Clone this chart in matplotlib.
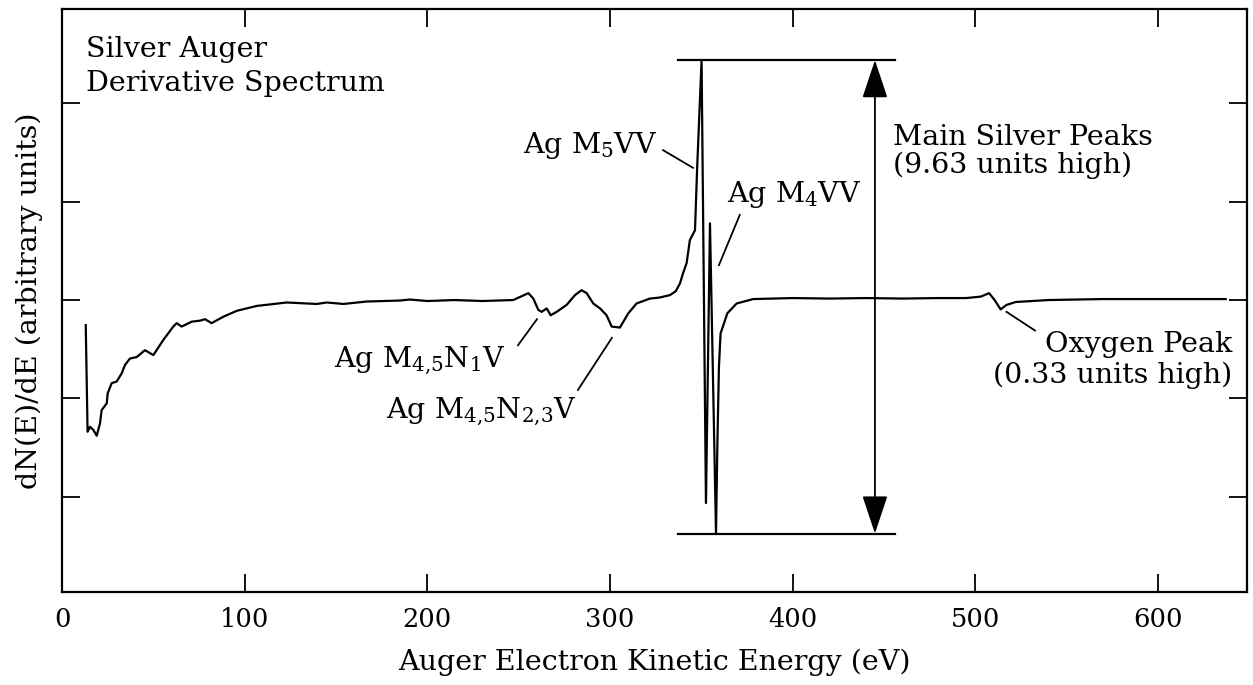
import matplotlib
matplotlib.use("Agg")
import matplotlib.pyplot as plt

# Auger derivative spectrum (eV, arbitrary units)
energia = [13.0, 14.0, 15.3, 17.1, 19.0, 20.8, 21.7, 24.5, 25.0, 27.2, 29.9, 32.7,
           34.5, 37.2, 40.9, 45.4, 50.0, 55.5, 60.9, 62.8, 65.5, 71.0, 75.5, 78.3,
           81.9, 88.3, 95.6, 106.6, 123.0, 139.4, 144.9, 154.0, 166.8, 185.0, 190.5,
           200.0, 215.0, 230.0, 247.0, 255.3, 258.0, 260.7, 262.6, 265.3, 267.5,
           270.8, 276.2, 280.8, 284.4, 287.2, 290.8, 294.5, 298.1, 300.9, 305.4,
           310.0, 314.5, 321.8, 327.0, 332.8, 336.0, 338.3, 340.0, 341.9, 343.7,
           346.5, 347.7, 350.1, 352.5, 354.7, 358.0, 358.7, 359.6, 360.5, 364.2,
           369.3, 378.4, 400.0, 420.0, 440.0, 460.0, 480.0, 495.0, 503.0, 507.5,
           510.5, 513.8, 517.0, 522.0, 540.0, 570.0, 600.0, 637.0]
dnde = [-0.51, -2.68, -2.58, -2.64, -2.76, -2.51, -2.24, -2.10, -1.90, -1.69, -1.66, -1.49,
        -1.32, -1.19, -1.16, -1.02, -1.12, -0.81, -0.54, -0.47, -0.54, -0.44, -0.42, -0.39,
        -0.47, -0.34, -0.22, -0.12, -0.05, -0.08, -0.05, -0.08, -0.03, -0.01, 0.01,
        -0.02, 0.0, -0.02, 0.0, 0.14, 0.03, -0.20, -0.24, -0.17, -0.31,
        -0.24, -0.10, 0.10, 0.20, 0.14, -0.07, -0.17, -0.31, -0.54, -0.56,
        -0.27, -0.07, 0.03, 0.05, 0.10, 0.18, 0.34, 0.55, 0.75, 1.22,
        1.42, 2.71, 4.88, -4.13, 1.56, -4.75, -3.05, -1.36, -0.68, -0.27,
        -0.07, 0.02, 0.04, 0.03, 0.04, 0.03, 0.04, 0.04, 0.07, 0.14,
        0.0, -0.19, -0.10, -0.04, 0.0, 0.02, 0.02, 0.02]

x_ticks = [0, 100, 200, 300, 400, 500, 600]
y_ticks = [-4, -2, 0, 2, 4]

FONTE = "DejaVu Serif"
TAM = 20.5
plt.rcParams["font.family"] = FONTE
plt.rcParams["mathtext.fontset"] = "dejavuserif"

fig = plt.figure(figsize=(12.53, 6.85), dpi=100)
ax = fig.add_axes([62 / 1253, 93 / 685, 1184.7 / 1253, 582.7 / 685])

ax.plot(energia, dnde, color="black", linewidth=1.6)

ax.set_xlim(0, 648.5)
ax.set_ylim(-5.94, 5.915)
ax.set_xticks(x_ticks)
ax.set_yticks(y_ticks)
ax.set_yticklabels([])
ax.tick_params(direction="in", length=13, width=1.3, top=True, right=True,
               labelsize=18.5, pad=11)
for sp in ax.spines.values():
    sp.set_linewidth(1.6)

ax.set_xlabel("Auger Electron Kinetic Energy (eV)", fontsize=TAM, labelpad=12)
ax.set_ylabel("dN(E)/dE (arbitrary units)", fontsize=TAM, labelpad=3)

# titulo dentro do grafico
ax.text(13, 4.94, "Silver Auger", fontsize=TAM, ha="left", va="baseline")
ax.text(13, 4.26, "Derivative Spectrum", fontsize=TAM, ha="left", va="baseline")

# barras dos picos principais
y_max = max(dnde)
y_min = min(dnde)
ax.plot([337, 456], [y_max, y_max], color="black", linewidth=1.6)
ax.plot([337, 456], [y_min, y_min], color="black", linewidth=1.6)
ax.annotate("", xy=(445, y_max), xytext=(445, y_min),
            arrowprops=dict(arrowstyle="<|-|>,head_length=1.2,head_width=0.4",
                            mutation_scale=20, color="black", lw=1.3,
                            shrinkA=0, shrinkB=0))

ax.text(455, 3.16, "Main Silver Peaks", fontsize=TAM, ha="left", va="baseline")
ax.text(455, 2.58, "(9.63 units high)", fontsize=TAM, ha="left", va="baseline")

# rotulos dos picos
rotulos = [
    (r"Ag $\mathrm{M}_5$VV", 325.7, 3.0, "right", (329, 3.05), (345.4, 2.69)),
    (r"Ag $\mathrm{M}_4$VV", 364.0, 2.0, "left", (371, 1.73), (359.6, 0.71)),
    (r"Ag $\mathrm{M}_{4{,}5}\mathrm{N}_1$V", 149.0, -1.38, "left", (249.6, -0.92), (260, -0.39)),
    (r"Ag $\mathrm{M}_{4{,}5}\mathrm{N}_{2{,}3}$V", 177.5, -2.4, "left", (282.4, -1.83), (301, -0.77)),
]
for texto, xt, yt, alinh, p0, p1 in rotulos:
    ax.text(xt, yt, texto, fontsize=TAM, ha=alinh, va="baseline")
    ax.plot([p0[0], p1[0]], [p0[1], p1[1]], color="black", linewidth=1.3)

ax.plot([517, 532.6], [-0.24, -0.62], color="black", linewidth=1.3)
ax.text(640.4, -1.06, "Oxygen Peak", fontsize=TAM, ha="right", va="baseline")
ax.text(640.4, -1.69, "(0.33 units high)", fontsize=TAM, ha="right", va="baseline")

fig.savefig("out.png", dpi=100)
